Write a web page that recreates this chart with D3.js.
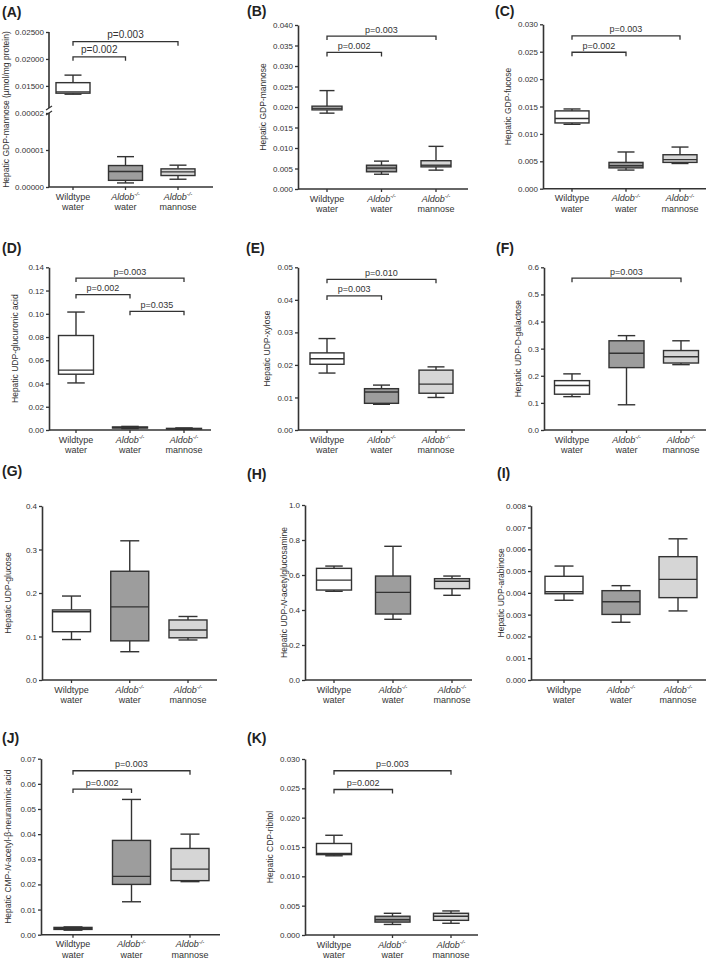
<!DOCTYPE html>
<html><head><meta charset="utf-8">
<script src="https://cdn.jsdelivr.net/npm/d3@7/dist/d3.min.js"></script>
<style>
html,body{margin:0;padding:0;background:#fff;}
svg{display:block;font-family:"Liberation Sans",Arial,sans-serif;}
</style></head>
<body>
<svg id="chart" width="709" height="959"></svg>
<script>
// ---------- DATA ----------
// Each group: [min, Q1, median, Q3, max]
const groups = ["wtWater", "aldobWater", "aldobMannose"];
const panelIds = ["A","B","C","D","E","F","G","H","I","J","K"];

const gdpMannoseAbs = [[0.01346,0.01365,0.0139,0.0156,0.0170],[0.0000011,0.0000018,0.0000042,0.0000058,0.0000082],[0.0000021,0.0000031,0.0000041,0.0000049,0.0000059]];
const gdpMannose   = [[0.0185,0.0193,0.0197,0.0202,0.0240],[0.0036,0.0042,0.0051,0.0058,0.0068],[0.0046,0.0054,0.0058,0.0069,0.0104]];
const gdpFucose    = [[0.01175,0.0120,0.0128,0.0142,0.01455],[0.0034,0.0038,0.0042,0.0048,0.0067],[0.0046,0.0048,0.0053,0.0062,0.0076]];
const udpGlcA      = [[0.0405,0.048,0.0515,0.0813,0.1015],[0.0012,0.0017,0.0022,0.0026,0.0031],[0.0006,0.0009,0.0011,0.0014,0.0018]];
const udpXylose    = [[0.0175,0.0202,0.0219,0.0237,0.0281],[0.0079,0.0082,0.0117,0.0127,0.0138],[0.0100,0.0113,0.0141,0.0184,0.0194]];
const udpGalactose = [[0.123,0.132,0.164,0.182,0.207],[0.093,0.230,0.283,0.329,0.348],[0.241,0.247,0.270,0.293,0.329]];
const udpGlucose   = [[0.093,0.111,0.157,0.161,0.193],[0.065,0.090,0.168,0.250,0.320],[0.092,0.097,0.115,0.138,0.146]];
const udpGlcNAc    = [[0.507,0.514,0.571,0.638,0.651],[0.347,0.377,0.501,0.594,0.764],[0.484,0.522,0.564,0.579,0.594]];
const udpArabinose = [[0.00366,0.00396,0.00405,0.00476,0.00523],[0.00265,0.00301,0.00359,0.0041,0.00433],[0.00317,0.00378,0.00462,0.00566,0.00648]];
const cmpNeuAc     = [[0.0018,0.0021,0.0024,0.0029,0.0031],[0.0131,0.0200,0.0232,0.0375,0.0538],[0.0211,0.0215,0.0261,0.0343,0.0400]];
const cdpRibitol   = [[0.0135,0.0137,0.0139,0.0156,0.0170],[0.0018,0.0022,0.0026,0.0032,0.0037],[0.0020,0.0025,0.0032,0.0037,0.0041]];

// tick values
const ticksA = [0, 0.00001, 0.00002, 0.015, 0.020, 0.025];
const ticksB = [0,0.005,0.010,0.015,0.020,0.025,0.030,0.035,0.040];
const ticksC = [0,0.005,0.010,0.015,0.020,0.025,0.030];
const ticksD = [0,0.02,0.04,0.06,0.08,0.10,0.12,0.14];
const ticksE = [0,0.01,0.02,0.03,0.04,0.05];
const ticksF = [0,0.1,0.2,0.3,0.4,0.5,0.6];
const ticksG = [0,0.1,0.2,0.3,0.4];
const ticksH = [0,0.2,0.4,0.6,0.8,1.0];
const ticksI = [0,0.001,0.002,0.003,0.004,0.005,0.006,0.007,0.008];
const ticksJ = [0,0.01,0.02,0.03,0.04,0.05,0.06,0.07];
const ticksK = [0,0.005,0.010,0.015,0.020,0.025,0.030];
const tickFormats = [".5f",".3f",".3f",".2f",".2f",".1f",".1f",".1f",".3f",".2f",".3f"];

// significance brackets: [fromGroup, toGroup, yValue, label]
const sigA = [[0,2,0.0232,"p=0.003"],[0,1,0.0204,"p=0.002"]];
const sigB = [[0,2,0.0373,"p=0.003"],[0,1,0.0333,"p=0.002"]];
const sigC = [[0,2,0.0279,"p=0.003"],[0,1,0.0249,"p=0.002"]];
const sigD = [[0,2,0.1307,"p=0.003"],[0,1,0.1165,"p=0.002"],[1,2,0.1021,"p=0.035"]];
const sigE = [[0,2,0.0463,"p=0.010"],[0,1,0.0412,"p=0.003"]];
const sigF = [[0,2,0.560,"p=0.003"]];
const sigJ = [[0,2,0.0652,"p=0.003"],[0,1,0.0579,"p=0.002"]];
const sigK = [[0,2,0.0280,"p=0.003"],[0,1,0.0248,"p=0.002"]];

// y-axis titles: segments [text, italic]
const yTitles = [
  [["Hepatic GDP-mannose (µmol/mg protein)",false]],
  [["Hepatic GDP-mannose",false]],
  [["Hepatic GDP-fucose",false]],
  [["Hepatic UDP-glucuronic acid",false]],
  [["Hepatic UDP-xylose",false]],
  [["Hepatic UDP-D-galactose",false]],
  [["Hepatic UDP-glucose",false]],
  [["Hepatic UDP-",false],["N",true],["-acetylglucosamine",false]],
  [["Hepatic UDP-arabinose",false]],
  [["Hepatic CMP-",false],["N",true],["-acetyl-β-neuraminic acid",false]],
  [["Hepatic CDP-ribitol",false]]
];

// ---------- LAYOUT (positions / styles) ----------
const layout = [
  {ax:49, end:213, c0:73,  c2:178, yTop:32,    yBot:187,   bw:34, lx:6,   lab:[2,17]},
  {ax:298,end:468, c0:327, c2:436, yTop:25,    yBot:189,   bw:30, lx:263, lab:[247,16]},
  {ax:543,end:706, c0:572, c2:680, yTop:24.3,  yBot:188.7, bw:34, lx:508, lab:[495,16]},
  {ax:49, end:211, c0:76,  c2:184, yTop:267.3, yBot:430,   bw:35, lx:15,  lab:[2,253]},
  {ax:298,end:465, c0:327, c2:436, yTop:267.3, yBot:430,   bw:34, lx:267, lab:[246,253]},
  {ax:544,end:706, c0:572, c2:681, yTop:267.3, yBot:430,   bw:35, lx:518, lab:[496,253]},
  {ax:42, end:217, c0:71.5,c2:188, yTop:506,   yBot:680,   bw:38, lx:8,   lab:[2,476]},
  {ax:305,end:472, c0:334, c2:452, yTop:505,   yBot:680,   bw:35, lx:284, lab:[247,479]},
  {ax:531,end:706, c0:564, c2:678, yTop:505.7, yBot:680,   bw:38, lx:501, lab:[497,478]},
  {ax:41, end:220, c0:73,  c2:190, yTop:758.7, yBot:934.7, bw:38, lx:8,   lab:[2,743]},
  {ax:305,end:478, c0:334, c2:451, yTop:759,   yBot:935,   bw:35, lx:270, lab:[247,743]}
];
const fills = ["#ffffff","#9d9d9d","#d6d6d6"];
const ink = "#333";

const values = [gdpMannoseAbs,gdpMannose,gdpFucose,udpGlcA,udpXylose,udpGalactose,udpGlucose,udpGlcNAc,udpArabinose,cmpNeuAc,cdpRibitol];
const tickSets = [ticksA,ticksB,ticksC,ticksD,ticksE,ticksF,ticksG,ticksH,ticksI,ticksJ,ticksK];
const sigSets = [sigA,sigB,sigC,sigD,sigE,sigF,[],[],[],sigJ,sigK];

const svg = d3.select("#chart");

values.forEach((vals, i) => {
  const L = layout[i];
  const ticks = tickSets[i];
  const g = svg.append("g");
  const x = d3.scalePoint().domain(groups).range([L.c0, L.c2]);
  let y;
  if (i === 0) {
    // broken axis: lower segment 0..0.00002, upper segment 0.0109..0.025
    y = d3.scaleLinear().domain([0, 0.00002, 0.0109, 0.025]).range([L.yBot, 113, 108, L.yTop]);
  } else {
    y = d3.scaleLinear().domain([0, d3.max(ticks)]).range([L.yBot, L.yTop]);
  }

  // panel letter
  g.append("text").attr("x", L.lab[0]).attr("y", L.lab[1])
    .attr("font-size", 14).attr("font-weight", "bold").attr("fill", "#222")
    .text("(" + panelIds[i] + ")");

  // y axis
  const yAxis = d3.axisLeft(y).tickValues(ticks).tickFormat(d3.format(tickFormats[i]))
    .tickSize(3).tickSizeOuter(0).tickPadding(2);
  const ya = g.append("g").attr("transform", `translate(${L.ax},0)`).call(yAxis);
  ya.selectAll("text").attr("font-size", 8).attr("fill", ink).attr("font-family", "Liberation Sans, Arial, sans-serif");
  ya.selectAll("line").attr("stroke", ink).attr("stroke-width", 1.3);
  ya.select(".domain").attr("stroke", ink).attr("stroke-width", 1.6);
  if (i === 0) {
    ya.select(".domain").remove();
    g.append("line").attr("x1", L.ax).attr("x2", L.ax).attr("y1", L.yTop).attr("y2", 108)
      .attr("stroke", ink).attr("stroke-width", 1.6);
    g.append("line").attr("x1", L.ax).attr("x2", L.ax).attr("y1", 113).attr("y2", L.yBot)
      .attr("stroke", ink).attr("stroke-width", 1.6);
    [108, 113].forEach(yy => {
      g.append("line").attr("x1", L.ax - 3).attr("x2", L.ax + 3).attr("y1", yy + 2).attr("y2", yy - 2)
        .attr("stroke", ink).attr("stroke-width", 1.2);
    });
  }

  // y title
  const yt = g.append("text")
    .attr("transform", `translate(${L.lx},${(L.yTop + L.yBot) / 2}) rotate(-90)`)
    .attr("text-anchor", "middle").attr("dominant-baseline", "central")
    .attr("font-size", 8.5).attr("fill", ink);
  yTitles[i].forEach(seg => {
    yt.append("tspan").attr("font-style", seg[1] ? "italic" : "normal").text(seg[0]);
  });

  // x axis
  g.append("line").attr("x1", L.ax).attr("x2", L.end).attr("y1", L.yBot).attr("y2", L.yBot)
    .attr("stroke", ink).attr("stroke-width", 1.6);
  groups.forEach((gr, k) => {
    const cx = x(gr);
    g.append("line").attr("x1", cx).attr("x2", cx).attr("y1", L.yBot).attr("y2", L.yBot + 3)
      .attr("stroke", ink).attr("stroke-width", 1.3);
    const t1 = g.append("text").attr("x", cx).attr("y", L.yBot + 12.5).attr("text-anchor", "middle")
      .attr("font-size", 9).attr("fill", ink);
    if (k === 0) {
      t1.text("Wildtype");
    } else {
      t1.append("tspan").attr("font-style", "italic").text("Aldob");
      t1.append("tspan").attr("font-style", "italic").attr("font-size", 6).attr("dy", -3.5).text("-/-");
    }
    g.append("text").attr("x", cx).attr("y", L.yBot + 23).attr("text-anchor", "middle")
      .attr("font-size", 9).attr("fill", ink).text(k === 2 ? "mannose" : "water");
  });

  // boxes
  vals.forEach((v, k) => {
    const cx = x(groups[k]);
    const bw = L.bw, cw = bw / 2;
    const [mn, q1, md, q3, mx] = v;
    const bg = g.append("g").attr("stroke", ink).attr("stroke-width", 1.4);
    bg.append("line").attr("x1", cx).attr("x2", cx).attr("y1", y(mx)).attr("y2", y(q3));
    bg.append("line").attr("x1", cx).attr("x2", cx).attr("y1", y(q1)).attr("y2", y(mn));
    bg.append("line").attr("x1", cx - cw / 2).attr("x2", cx + cw / 2).attr("y1", y(mx)).attr("y2", y(mx));
    bg.append("line").attr("x1", cx - cw / 2).attr("x2", cx + cw / 2).attr("y1", y(mn)).attr("y2", y(mn));
    bg.append("rect").attr("x", cx - bw / 2).attr("width", bw)
      .attr("y", y(q3)).attr("height", Math.max(0.5, y(q1) - y(q3))).attr("fill", fills[k]);
    bg.append("line").attr("x1", cx - bw / 2).attr("x2", cx + bw / 2).attr("y1", y(md)).attr("y2", y(md));
  });

  // brackets
  sigSets[i].forEach(s => {
    const xa = x(groups[s[0]]), xb = x(groups[s[1]]), yb = y(s[2]);
    g.append("path").attr("d", `M${xa},${yb + 4}V${yb}H${xb}V${yb + 4}`)
      .attr("fill", "none").attr("stroke", ink).attr("stroke-width", 1.3);
    g.append("text").attr("x", (xa + xb) / 2).attr("y", yb - 3.5).attr("text-anchor", "middle")
      .attr("font-size", i === 0 ? 10 : 9).attr("fill", ink).text(s[3]);
  });
});
</script>
</body></html>
